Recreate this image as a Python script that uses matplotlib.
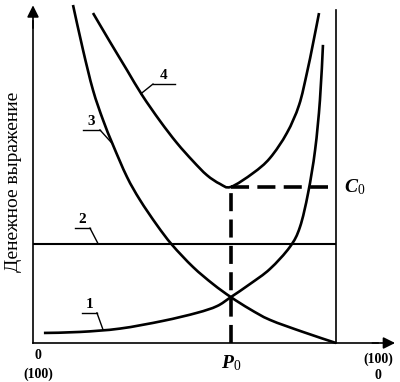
import numpy as np
import matplotlib
matplotlib.use('Agg')
import matplotlib.pyplot as plt
from matplotlib.path import Path
from matplotlib.patches import PathPatch

plt.rcParams['font.family'] = ['Liberation Serif', 'DejaVu Serif']
plt.rcParams['mathtext.fontset'] = 'custom'
plt.rcParams['mathtext.rm'] = 'Liberation Serif'
plt.rcParams['mathtext.it'] = 'Liberation Serif:italic'
plt.rcParams['mathtext.bf'] = 'Liberation Serif:bold:italic'

# кривая 1 (растущие затраты)
x1 = [3.6, 15.5, 28.7, 42.9, 54.1, 60.7, 65.3, 71.6, 78.2, 84.8, 88.1, 90.8, 93.1, 94.7, 95.7]
y1 = [3.0, 3.3, 4.3, 6.6, 9.0, 11.0, 13.7, 17.6, 22.1, 28.7, 34.6, 44.8, 57.6, 72.5, 89.0]
# кривая 3 (убывающие затраты)
x3 = [13.2, 16.5, 19.8, 23.1, 26.4, 31.0, 35.3, 40.9, 45.9, 52.8, 59.4, 65.3, 71.6, 78.2, 89.1, 100.0]
y3 = [100.9, 87.5, 75.5, 66.6, 59.1, 49.6, 42.7, 35.2, 29.3, 22.7, 17.6, 13.7, 10.1, 6.9, 3.3, 0.0]
# кривая 4 (суммарные затраты)
x4 = [19.8, 25.4, 31.0, 36.0, 41.9, 47.5, 52.8, 57.4, 61.7, 65.3, 72.6, 78.2, 83.8, 87.8, 90.4, 92.4, 94.4]
y4 = [98.5, 89.9, 81.5, 74.0, 66.3, 59.7, 54.3, 50.1, 47.5, 46.6, 50.7, 55.2, 62.7, 71.0, 80.6, 89.3, 98.5]
# линия 2 (постоянный уровень)
level2 = 29.6
p0 = 65.3
c0 = 46.6


def smooth_path(xs, ys):
    # плавная кривая через точки (Катмулл-Ром -> кубические Безье)
    p = np.column_stack([xs, ys])
    ext = np.vstack([p[0], p, p[-1]])
    verts = [p[0]]
    codes = [Path.MOVETO]
    for i in range(1, len(ext) - 2):
        c1 = ext[i] + (ext[i + 1] - ext[i - 1]) / 6
        c2 = ext[i + 1] - (ext[i + 2] - ext[i]) / 6
        verts += [c1, c2, ext[i + 1]]
        codes += [Path.CURVE4] * 3
    return Path(verts, codes)


fig = plt.figure(figsize=(4, 3.82), dpi=100)
ax = fig.add_axes([33 / 400, 39 / 382, 303 / 400, 335 / 382])
ax.set_xlim(0, 100)
ax.set_ylim(0, 100)
ax.axis('off')

lw = 1.9
for xs, ys in [(x1, y1), (x3, y3), (x4, y4)]:
    ax.add_patch(PathPatch(smooth_path(xs, ys), facecolor='none',
                           edgecolor='black', lw=lw, clip_on=False,
                           capstyle='butt', joinstyle='round'))
ax.plot([0, 100], [level2, level2], color='black', lw=1.5)
ax.plot([100, 100], [0, 99.4], color='black', lw=1.2, clip_on=False)

# пунктир P0 / C0
ax.plot([p0, p0], [0, c0], color='black', lw=2.6, linestyle=(0, (5, 2.3)))
ax.plot([p0, 97.4], [c0, c0], color='black', lw=2.6, linestyle=(0, (5, 2.3)))

# оси со стрелками
ax.plot([0, 0], [0, 96], color='black', lw=1.2, clip_on=False)
ax.plot([0, 114], [0, 0], color='black', lw=1.2, clip_on=False)
ax.annotate('', xy=(0, 100.8), xytext=(0, 94), annotation_clip=False,
            arrowprops=dict(arrowstyle='-|>,head_length=0.5,head_width=0.25',
                            color='black', lw=1.2,
                            mutation_scale=14, shrinkA=0, shrinkB=0))
ax.annotate('', xy=(119.5, 0), xytext=(112, 0), annotation_clip=False,
            arrowprops=dict(arrowstyle='-|>,head_length=0.5,head_width=0.25',
                            color='black', lw=1.2,
                            mutation_scale=14, shrinkA=0, shrinkB=0))

# номера кривых с выносками
labels = ['1', '2', '3', '4']
lead_x0 = [16.2, 13.9, 16.5, 39.6]
lead_x1 = [21.1, 18.8, 22.1, 46.9]
lead_y = [9.0, 34.3, 63.6, 77.3]
tip_x = [23.1, 21.5, 26.2, 35.6]
tip_y = [4.0, 29.6, 59.5, 74.4]
for lab, a, b, yy, tx, ty in zip(labels, lead_x0, lead_x1, lead_y, tip_x, tip_y):
    ax.plot([a, b], [yy, yy], color='black', lw=1.0)
    if tx > b:
        ax.plot([b, tx], [yy, ty], color='black', lw=1.0)
    else:
        ax.plot([a, tx], [yy, ty], color='black', lw=1.0)
    ax.text((a + b) / 2, yy + 0.6, lab, ha='center', va='bottom',
            fontsize=11, fontweight='bold')

ax.text(1.7, -3.6, '0', ha='center', va='center', fontsize=10, fontweight='bold')
ax.text(1.7, -9.2, '(100)', ha='center', va='center', fontsize=10, fontweight='bold')
ax.text(113.9, -4.9, '(100)', ha='center', va='center', fontsize=10, fontweight='bold')
ax.text(113.9, -9.7, '0', ha='center', va='center', fontsize=10, fontweight='bold')
ax.text(p0, -6.0, r'$\mathbf{P}_0$', ha='center', va='center', fontsize=14)
ax.text(102.5, c0, r'$\mathbf{C}_0$', ha='left', va='center', fontsize=14)

fig.text(14 / 400, 1 - 182 / 382, 'Денежное выражение', rotation=90,
         ha='center', va='center', fontsize=14)

fig.savefig('out.png', dpi=100)
